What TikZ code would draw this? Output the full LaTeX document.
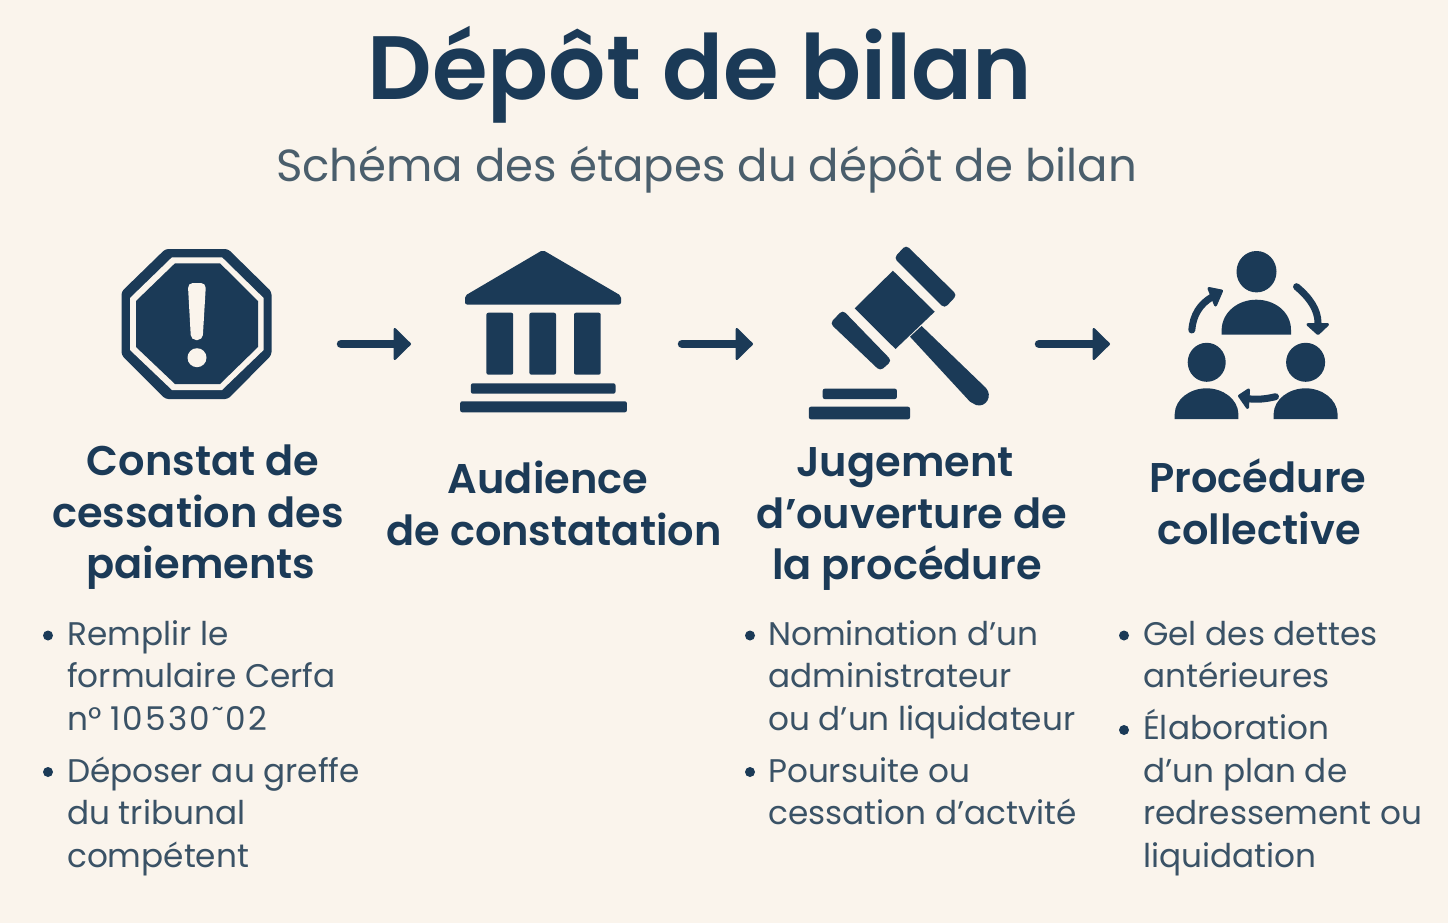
\documentclass[tikz,border=0pt]{standalone}
\usepackage{fontspec}
\setmainfont{Poppins}
\usetikzlibrary{arrows.meta}
\definecolor{bgc}{HTML}{FAF4EC}
\definecolor{navy}{HTML}{1B3A57}
\definecolor{subc}{HTML}{4A5E6C}
\definecolor{bodyc}{HTML}{3A5266}
\newfontfamily\headfont{Poppins SemiBold}
\newfontfamily\bodyfont{Poppins}
\newcommand{\bstrut}{\rule{0pt}{30pt}}
\newcommand{\hstrut}{\rule{0pt}{40pt}}
\tikzset{
  titletext/.style={anchor=base,inner sep=0,text=navy,font=\headfont\fontsize{90}{90}\selectfont},
  subtext/.style={anchor=base,inner sep=0,text=subc,font=\bodyfont\fontsize{45}{45}\selectfont},
  headtext/.style={anchor=north,inner sep=0,align=center,text=navy,font=\headfont\fontsize{41.5}{51.5}\selectfont},
  bullettext/.style={anchor=north west,inner sep=0,align=left,text=bodyc,font=\bodyfont\fontsize{32.7}{42.5}\selectfont},
  bulletdot/.style={circle,fill=navy,inner sep=0,minimum size=10pt},
  icon/.style={fill=navy,draw=none},
  flowarrow/.style={draw=navy,line width=8.5pt,line cap=round,-{Triangle[length=18pt,width=35pt,round,line width=2.5pt]}},
  cyclearrow/.style={draw=navy,line width=7pt,line cap=round},
}
\begin{document}
\begin{tikzpicture}[x=1pt,y=-1pt]
\useasboundingbox (0,0) rectangle (1448,923);
\fill[bgc] (0,0) rectangle (1448,923);

\node[titletext] (title) at (700,100) {Dépôt de bilan};
\node[subtext] (subtitle) at (706.5,181.5) {Schéma des étapes du dépôt de bilan};

% octagon
\fill[icon,rounded corners=3pt] (165.4,249)--(228,249)--(271.5,291.7)--(271.5,355)--(228,399)--(165.4,399)--(121.5,355)--(121.5,291.7)--cycle;
\fill[bgc] (172,257.3)--(222,257.3)--(263.6,298)--(263.6,350)--(222,390)--(172,390)--(130,350)--(130,298)--cycle;
\fill[icon] (175,263.3)--(220,263.3)--(258,301)--(258,347)--(220,384)--(175,384)--(136,347)--(136,301)--cycle;
\fill[bgc,rounded corners=5pt] (187.8,283)--(206,283)--(202.6,340)--(191,340)--cycle;
\fill[bgc] (197,357.7) circle (9.5);

% temple
\fill[icon,rounded corners=2pt] (542.8,250)--(621,295.7)--(621,304.5)--(465,304.5)--(465,295.7)--cycle;
\fill[icon,rounded corners=2pt] (486.4,312.7) rectangle (513.2,374.7);
\fill[icon,rounded corners=2pt] (529.4,312.7) rectangle (556,374.7);
\fill[icon,rounded corners=2pt] (574,312.7) rectangle (600.7,374.7);
\fill[icon,rounded corners=2pt] (470.9,383.3) rectangle (615.5,393.7);
\fill[icon,rounded corners=2pt] (460.2,401.3) rectangle (626.9,412.3);

% gavel
\fill[icon] (892.9,270.7)--(934.7,311.7)--(895.5,349)--(854.7,308.3)--cycle;
\fill[icon,rounded corners=4pt] (906,245)--(957,295)--(944.5,308.3)--(894,258)--cycle;
\fill[icon,rounded corners=4pt] (842.7,310)--(891.8,360.7)--(880.2,371)--(830,323.3)--cycle;
\fill[icon] (921.6,326)--(986,388) .. controls (993,396) and (986,408) .. (976,405)--(970,401.7)--(910,336.7)--cycle;
\fill[icon,rounded corners=2pt] (822.7,388.7) rectangle (896.9,399);
\fill[icon,rounded corners=2pt] (808.9,406.7) rectangle (910,419.3);

% people
\fill[icon] (1256.5,271.7) ellipse [x radius=20,y radius=20.7];
\fill[icon] (1206.7,362.3) ellipse [x radius=19,y radius=19.5];
\fill[icon] (1305.6,362.3) ellipse [x radius=19.5,y radius=19.5];
\fill[icon] (1221.6,334.7) -- (1221.6,330) .. controls (1222,312) and (1238,299.7) .. (1256.3,299.7) .. controls (1275,299.7) and (1291,312) .. (1291,330) -- (1291,334.7) -- cycle;
\fill[icon] (1174.7,419) -- (1174.7,414) .. controls (1175,399) and (1190,388.3) .. (1206.5,388.3) .. controls (1223,388.3) and (1238,399) .. (1238.4,414) -- (1238.4,419) -- cycle;
\fill[icon] (1273.6,419) -- (1273.6,414) .. controls (1274,399) and (1289,388.3) .. (1305.6,388.3) .. controls (1322,388.3) and (1337,399) .. (1337.6,414) -- (1337.6,419) -- cycle;

% cycle arrows
\coordinate (c1s) at (1191.8,330); \coordinate (c1e) at (1212,297);
\coordinate (c2s) at (1296.5,286.7); \coordinate (c2e) at (1318,323);
\coordinate (c3s) at (1275.5,396.7); \coordinate (c3e) at (1248,398.6);
\draw[cyclearrow] (c1s) .. controls (1193,315) and (1200,304) .. (c1e);
\draw[cyclearrow] (c2s) .. controls (1310,298) and (1318,310) .. (c2e);
\draw[cyclearrow] (c3s) .. controls (1266,399) and (1256,400) .. (c3e);
\fill[icon,draw=navy,line width=3pt,line join=round] (1209,288.5)--(1221.5,291)--(1215.5,305)--cycle;
\fill[icon,draw=navy,line width=3pt,line join=round] (1308,324.5)--(1327.5,324.5)--(1318,333.5)--cycle;
\fill[icon,draw=navy,line width=3pt,line join=round] (1248.5,390)--(1239.5,396)--(1247.5,407.5)--cycle;

% flow arrows
\coordinate (a1s) at (341,344); \coordinate (a1e) at (411,344);
\coordinate (a2s) at (682,344); \coordinate (a2e) at (753,344);
\coordinate (a3s) at (1039,344); \coordinate (a3e) at (1110,344);
\draw[flowarrow] (a1s) -- (a1e);
\draw[flowarrow] (a2s) -- (a2e);
\draw[flowarrow] (a3s) -- (a3e);

% headings
\node[headtext] (h1) at (198,435.5) {\hstrut\hspace*{10pt}Constat de\\cessation des\\\hspace*{6pt}paiements};
\node[headtext] (h2) at (554,453.5) {\hstrut\hspace*{-12pt}Audience\\de constatation};
\node[headtext] (h3) at (912,436.5) {\hstrut\hspace*{-14pt}Jugement\\d’ouverture de\\\hspace*{-10pt}la procédure};
\node[headtext] (h4) at (1259,452.5) {\hstrut\hspace*{-2pt}Procédure\\collective};

% bullets
\node[bulletdot] (d1) at (48,635.5) {};
\node[bullettext] (b1) at (67,615) {\bstrut Remplir le\\formulaire Cerfa\\n° {\addfontfeature{LetterSpace=6.5}10530˜02}};
\node[bulletdot] (d2) at (48,772) {};
\node[bullettext] (b2) at (67,752) {\bstrut Déposer au greffe\\du tribunal\\compétent};
\node[bulletdot] (d3) at (750,635.5) {};
\node[bullettext] (b3) at (768,615) {\bstrut Nomination d’un\\administrateur\\ou d’un liquidateur};
\node[bulletdot] (d4) at (750,772) {};
\node[bullettext] (b4) at (768,752) {\bstrut Poursuite ou\\cessation d’actvité};
\node[bulletdot] (d5) at (1124,635.5) {};
\node[bullettext] (b5) at (1143,615) {\bstrut Gel des dettes\\antérieures};
\node[bulletdot] (d6) at (1124,730) {};
\node[bullettext] (b6) at (1143,709) {\bstrut Élaboration\\d’un plan de\\redressement ou\\liquidation};
\end{tikzpicture}
\end{document}
